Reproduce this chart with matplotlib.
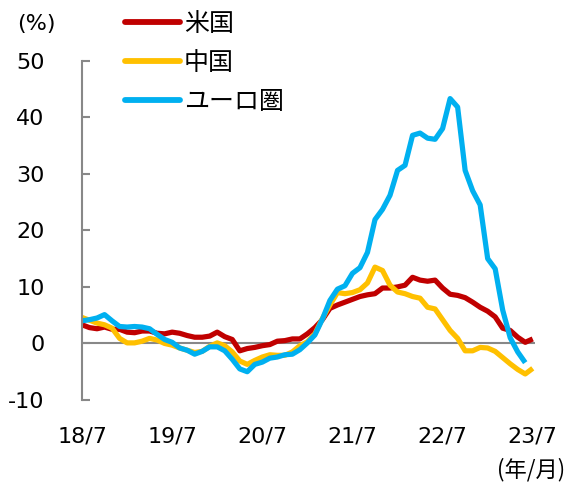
import matplotlib
matplotlib.use("Agg")
import matplotlib.pyplot as plt
import numpy as np

plt.rcParams["font.family"] = ["DejaVu Sans", "Noto Sans CJK JP"]

# monthly, 2018/7 .. 2023/7 (y/y %)
us = [3.3, 2.8, 2.6, 2.9, 2.5, 2.5,
      2.0, 1.9, 2.2, 2.2, 1.8, 1.7, 2.0, 1.8, 1.4, 1.1, 1.1, 1.3,
      2.0, 1.2, 0.7, -1.3, -0.9, -0.7, -0.4, -0.2, 0.4, 0.5, 0.8, 0.8,
      1.7, 2.8, 4.2, 6.2, 6.8, 7.3, 7.8, 8.3, 8.6, 8.8, 9.8, 9.8,
      10.0, 10.3, 11.7, 11.2, 11.0, 11.2, 9.8, 8.7, 8.5, 8.1, 7.3, 6.4,
      5.7, 4.7, 2.7, 2.3, 1.1, 0.2, 0.8]
china = [4.6, 4.1, 3.6, 3.3, 2.7, 0.9,
         0.1, 0.1, 0.4, 0.9, 0.6, 0.0, -0.3, -0.8, -1.2, -1.6, -1.4, -0.5,
         0.1, -0.4, -1.5, -3.1, -3.7, -3.0, -2.4, -2.0, -2.1, -2.1, -1.5, -0.4,
         0.3, 1.7, 4.4, 6.8, 9.0, 8.8, 9.0, 9.5, 10.7, 13.5, 12.9, 10.3,
         9.1, 8.8, 8.3, 8.0, 6.4, 6.1, 4.2, 2.3, 0.9, -1.3, -1.3, -0.7,
         -0.8, -1.4, -2.5, -3.6, -4.6, -5.4, -4.4]
euro = [4.0, 4.2, 4.5, 5.1, 4.0, 3.0,
        2.9, 3.0, 2.9, 2.6, 1.6, 0.7, 0.2, -0.8, -1.2, -1.9, -1.4, -0.6,
        -0.6, -1.3, -2.8, -4.5, -5.0, -3.7, -3.3, -2.6, -2.4, -2.0, -1.9, -1.1,
        0.1, 1.5, 4.3, 7.6, 9.6, 10.2, 12.4, 13.4, 16.1, 21.9, 23.7, 26.2,
        30.6, 31.5, 36.8, 37.2, 36.3, 36.1, 38.0, 43.3, 41.8, 30.6, 27.0, 24.5,
        15.0, 13.2, 5.9, 1.0, -1.5, -3.4]
names = ["米国", "中国", "ユーロ圏"]
colors = ["#C00000", "#FFC000", "#00B0F0"]
xlabels = ["18/7", "19/7", "20/7", "21/7", "22/7", "23/7"]
yticks = [-10, 0, 10, 20, 30, 40, 50]

gray = "#888888"

fig = plt.figure(figsize=(5.76, 4.82), dpi=100)
ax = fig.add_axes([82 / 576, 1 - 400 / 482, 453 / 576, 339.3 / 482])

for vals, name, col in zip([us, china, euro], names, colors):
    ax.plot(np.arange(len(vals)), vals, color=col, lw=3.75, label=name,
            solid_capstyle="butt", solid_joinstyle="round", clip_on=False)

ax.axhline(0, color=gray, lw=1.5, zorder=1)
ax.set_xlim(0, 60.3)
ax.set_ylim(-10, 50)

for side in ["top", "right", "bottom"]:
    ax.spines[side].set_visible(False)
ax.spines["left"].set_color(gray)
ax.spines["left"].set_linewidth(1.5)

ax.set_yticks(yticks)
ax.set_yticklabels([str(v) for v in yticks])
ax.tick_params(axis="y", direction="in", length=6, width=1.5, color=gray,
               pad=27, labelsize=16)
ax.set_xticks(np.arange(0, 61, 12))
ax.set_xticklabels(xlabels)
ax.tick_params(axis="x", length=0, pad=19, labelsize=16)

leg = ax.legend(loc="upper left", bbox_to_anchor=(125 / 576, 1 - 12 / 482),
                bbox_transform=fig.transFigure, frameon=False, fontsize=18,
                handlelength=2.2, handletextpad=0.15, labelspacing=0.6,
                borderpad=0, borderaxespad=0)
for line in leg.get_lines():
    line.set_linewidth(4.2)
    line.set_solid_capstyle("round")

fig.text(36 / 576, 1 - 24 / 482, "(%)", ha="center", va="center", fontsize=16)
fig.text(565 / 576, 1 - 470 / 482, "(年/月)", ha="right", va="center",
         fontsize=16, family=["Noto Sans CJK JP", "DejaVu Sans"])

fig.savefig("out.png", dpi=100)
